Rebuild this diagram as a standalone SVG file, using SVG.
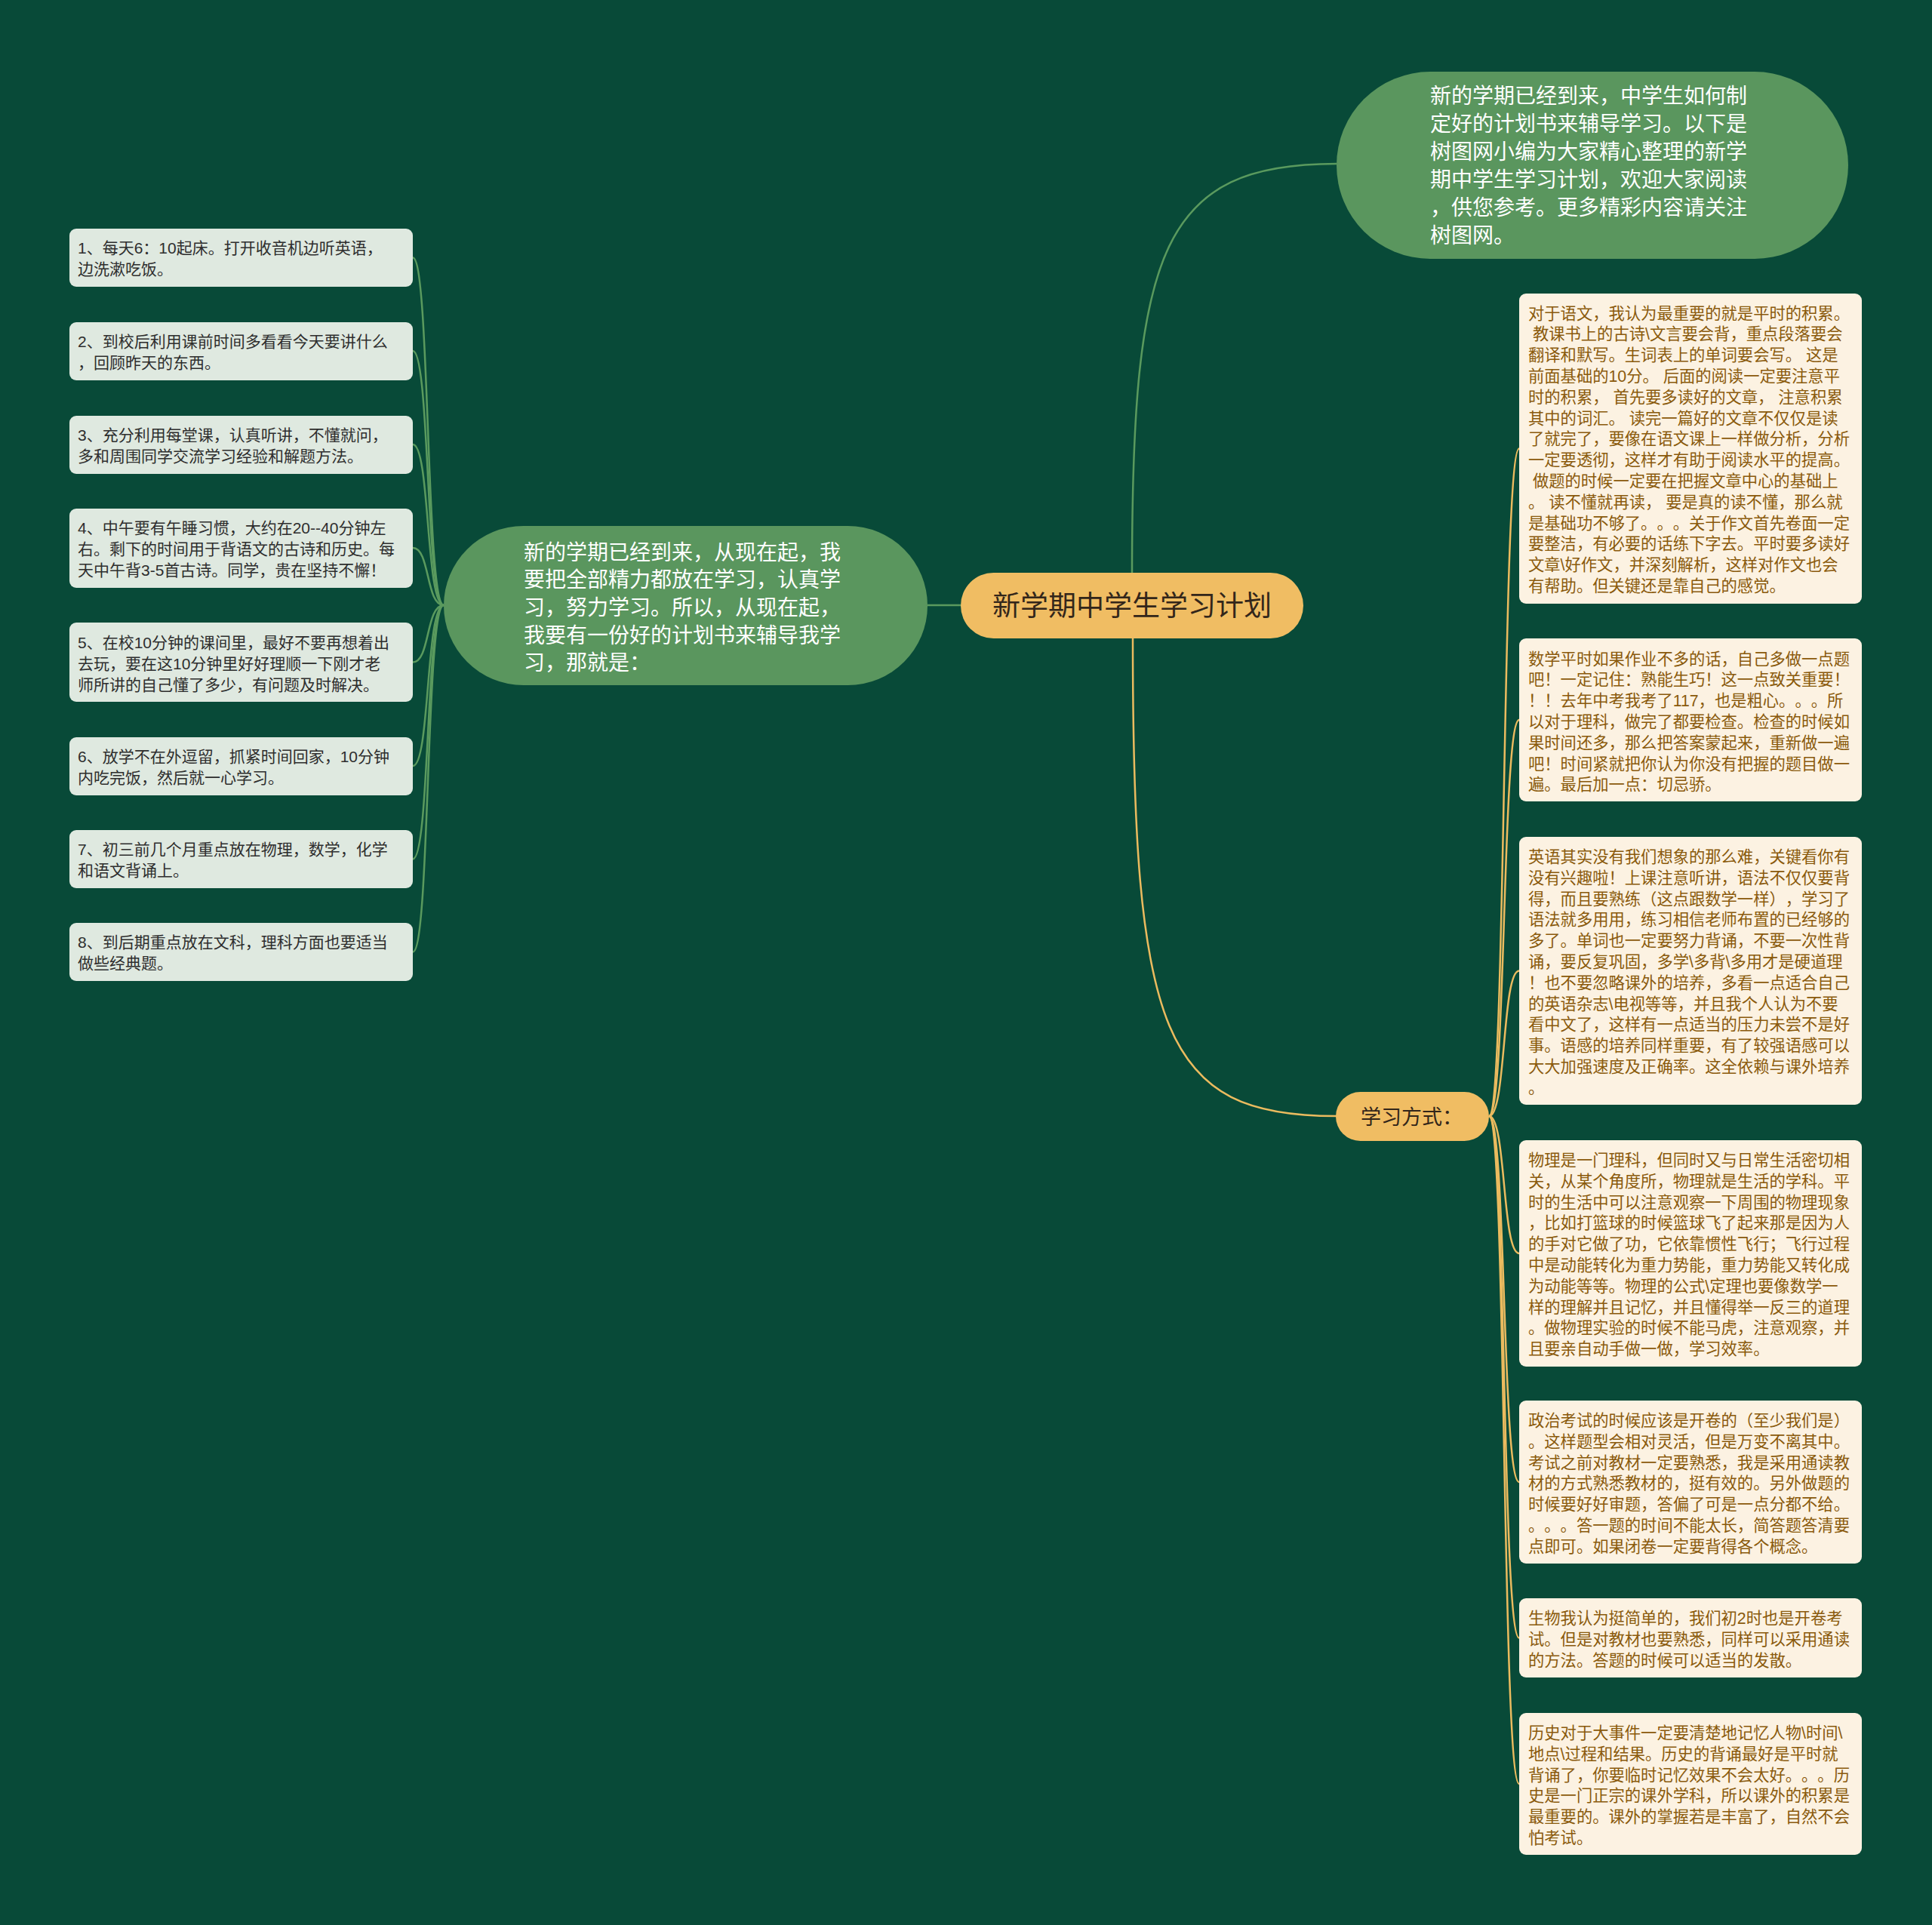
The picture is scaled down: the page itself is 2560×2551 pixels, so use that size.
<svg xmlns="http://www.w3.org/2000/svg" width="2560" height="2551" viewBox="0 0 2560 2551">
<style>
text{font-family:"Liberation Sans","Noto Sans CJK SC",sans-serif;text-spacing-trim:space-all;}
.gnode{fill:#5a965e;}
.wt{fill:#ffffff;font-size:28px;}
.lb{fill:#dfe9e0;}
.lt{fill:#2e2e2e;font-size:21px;}
.rb{fill:#fcf2e2;}
.rt{fill:#8a5a0c;font-size:21.3px;}
.gl{fill:none;stroke:#5a9a5e;stroke-width:2.5;}
.yl{fill:none;stroke:#ebbb5f;stroke-width:2.5;}
</style>
<rect x="0" y="0" width="2560" height="2551" fill="#084a38"/>
<g id="connectors">
<path class="gl" d="M1229 802 L1273 802"/>
<path class="gl" d="M1500 759 C1500 330 1540 217 1771 217"/>
<path class="yl" d="M1501 846 C1501 1370 1540 1479 1771 1479"/>
<path class="gl" d="M588 802 C564 802 570 341.5 547 341.5"/>
<path class="gl" d="M588 802 C564 802 570 465 547 465"/>
<path class="gl" d="M588 802 C564 802 570 589 547 589"/>
<path class="gl" d="M588 802 C564 802 570 726 547 726"/>
<path class="gl" d="M588 802 C564 802 570 877.5 547 877.5"/>
<path class="gl" d="M588 802 C564 802 570 1015 547 1015"/>
<path class="gl" d="M588 802 C564 802 570 1138.5 547 1138.5"/>
<path class="gl" d="M588 802 C564 802 570 1261.5 547 1261.5"/>
<path class="yl" d="M1973 1479 C1996 1479 1990 594.5 2013 594.5"/>
<path class="yl" d="M1973 1479 C1996 1479 1990 954 2013 954"/>
<path class="yl" d="M1973 1479 C1996 1479 1990 1286.5 2013 1286.5"/>
<path class="yl" d="M1973 1479 C1996 1479 1990 1661 2013 1661"/>
<path class="yl" d="M1973 1479 C1996 1479 1990 1964 2013 1964"/>
<path class="yl" d="M1973 1479 C1996 1479 1990 2170.5 2013 2170.5"/>
<path class="yl" d="M1973 1479 C1996 1479 1990 2364 2013 2364"/>
</g>
<g id="root">
<rect x="1273" y="759" width="454" height="87" rx="43.5" fill="#f0bd63"/>
<text x="1500" y="816" text-anchor="middle" font-size="37" fill="#33261a">新学期中学生学习计划</text>
</g>
<g id="intro">
<rect class="gnode" x="1771" y="95" width="678" height="248" rx="124"/>
<text class="wt" x="1895" y="136.5"><tspan x="1895" dy="0">新的学期已经到来，中学生如何制</tspan><tspan x="1895" dy="37">定好的计划书来辅导学习。以下是</tspan><tspan x="1895" dy="37">树图网小编为大家精心整理的新学</tspan><tspan x="1895" dy="37">期中学生学习计划，欢迎大家阅读</tspan><tspan x="1895" dy="37">，供您参考。更多精彩内容请关注</tspan><tspan x="1895" dy="37">树图网。</tspan></text>
</g>
<g id="plan">
<rect class="gnode" x="588" y="697" width="641" height="211" rx="105.5"/>
<text class="wt" x="694" y="741.5"><tspan x="694" dy="0">新的学期已经到来，从现在起，我</tspan><tspan x="694" dy="36.7">要把全部精力都放在学习，认真学</tspan><tspan x="694" dy="36.7">习，努力学习。所以，从现在起，</tspan><tspan x="694" dy="36.7">我要有一份好的计划书来辅导我学</tspan><tspan x="694" dy="36.7">习，那就是：</tspan></text>
</g>
<g id="plan-1">
<rect class="lb" x="92" y="303" width="455" height="77" rx="9"/>
<text class="lt" x="103" y="336"><tspan x="103" dy="0">1、每天6：10起床。打开收音机边听英语，</tspan><tspan x="103" dy="28">边洗漱吃饭。</tspan></text>
</g>
<g id="plan-2">
<rect class="lb" x="92" y="427" width="455" height="77" rx="9"/>
<text class="lt" x="103" y="460"><tspan x="103" dy="0">2、到校后利用课前时间多看看今天要讲什么</tspan><tspan x="103" dy="28">，回顾昨天的东西。</tspan></text>
</g>
<g id="plan-3">
<rect class="lb" x="92" y="551" width="455" height="77" rx="9"/>
<text class="lt" x="103" y="584"><tspan x="103" dy="0">3、充分利用每堂课，认真听讲，不懂就问，</tspan><tspan x="103" dy="28">多和周围同学交流学习经验和解题方法。</tspan></text>
</g>
<g id="plan-4">
<rect class="lb" x="92" y="674" width="455" height="105" rx="9"/>
<text class="lt" x="103" y="707"><tspan x="103" dy="0">4、中午要有午睡习惯，大约在20--40分钟左</tspan><tspan x="103" dy="28">右。剩下的时间用于背语文的古诗和历史。每</tspan><tspan x="103" dy="28">天中午背3-5首古诗。同学，贵在坚持不懈！</tspan></text>
</g>
<g id="plan-5">
<rect class="lb" x="92" y="825" width="455" height="105" rx="9"/>
<text class="lt" x="103" y="859"><tspan x="103" dy="0">5、在校10分钟的课间里，最好不要再想着出</tspan><tspan x="103" dy="28">去玩，要在这10分钟里好好理顺一下刚才老</tspan><tspan x="103" dy="28">师所讲的自己懂了多少，有问题及时解决。</tspan></text>
</g>
<g id="plan-6">
<rect class="lb" x="92" y="977" width="455" height="77" rx="9"/>
<text class="lt" x="103" y="1010"><tspan x="103" dy="0">6、放学不在外逗留，抓紧时间回家，10分钟</tspan><tspan x="103" dy="28">内吃完饭，然后就一心学习。</tspan></text>
</g>
<g id="plan-7">
<rect class="lb" x="92" y="1100" width="455" height="77" rx="9"/>
<text class="lt" x="103" y="1133"><tspan x="103" dy="0">7、初三前几个月重点放在物理，数学，化学</tspan><tspan x="103" dy="28">和语文背诵上。</tspan></text>
</g>
<g id="plan-8">
<rect class="lb" x="92" y="1223" width="455" height="77" rx="9"/>
<text class="lt" x="103" y="1256"><tspan x="103" dy="0">8、到后期重点放在文科，理科方面也要适当</tspan><tspan x="103" dy="28">做些经典题。</tspan></text>
</g>
<g id="method">
<rect x="1770" y="1447" width="203" height="65" rx="32.5" fill="#f0bd63"/>
<text x="1803" y="1490" font-size="27" fill="#33261a">学习方式：</text>
</g>
<g id="m-chinese">
<rect class="rb" x="2013" y="389" width="454" height="411" rx="9"/>
<text class="rt" x="2025" y="422.5" xml:space="preserve"><tspan x="2025" dy="0">对于语文，我认为最重要的就是平时的积累。</tspan><tspan x="2025" dy="27.8"> 教课书上的古诗\文言要会背，重点段落要会</tspan><tspan x="2025" dy="27.8">翻译和默写。生词表上的单词要会写。 这是</tspan><tspan x="2025" dy="27.8">前面基础的10分。 后面的阅读一定要注意平</tspan><tspan x="2025" dy="27.8">时的积累， 首先要多读好的文章， 注意积累</tspan><tspan x="2025" dy="27.8">其中的词汇。 读完一篇好的文章不仅仅是读</tspan><tspan x="2025" dy="27.8">了就完了，要像在语文课上一样做分析，分析</tspan><tspan x="2025" dy="27.8">一定要透彻，这样才有助于阅读水平的提高。</tspan><tspan x="2025" dy="27.8"> 做题的时候一定要在把握文章中心的基础上</tspan><tspan x="2025" dy="27.8">。 读不懂就再读， 要是真的读不懂，那么就</tspan><tspan x="2025" dy="27.8">是基础功不够了。。。关于作文首先卷面一定</tspan><tspan x="2025" dy="27.8">要整洁，有必要的话练下字去。平时要多读好</tspan><tspan x="2025" dy="27.8">文章\好作文，并深刻解析，这样对作文也会</tspan><tspan x="2025" dy="27.8">有帮助。但关键还是靠自己的感觉。</tspan></text>
</g>
<g id="m-math">
<rect class="rb" x="2013" y="846" width="454" height="216" rx="9"/>
<text class="rt" x="2025" y="880.5"><tspan x="2025" dy="0">数学平时如果作业不多的话，自己多做一点题</tspan><tspan x="2025" dy="27.8">吧！一定记住：熟能生巧！这一点致关重要！</tspan><tspan x="2025" dy="27.8">！！去年中考我考了117，也是粗心。。。所</tspan><tspan x="2025" dy="27.8">以对于理科，做完了都要检查。检查的时候如</tspan><tspan x="2025" dy="27.8">果时间还多，那么把答案蒙起来，重新做一遍</tspan><tspan x="2025" dy="27.8">吧！时间紧就把你认为你没有把握的题目做一</tspan><tspan x="2025" dy="27.8">遍。最后加一点：切忌骄。</tspan></text>
</g>
<g id="m-english">
<rect class="rb" x="2013" y="1109" width="454" height="355" rx="9"/>
<text class="rt" x="2025" y="1143"><tspan x="2025" dy="0">英语其实没有我们想象的那么难，关键看你有</tspan><tspan x="2025" dy="27.8">没有兴趣啦！上课注意听讲，语法不仅仅要背</tspan><tspan x="2025" dy="27.8">得，而且要熟练（这点跟数学一样），学习了</tspan><tspan x="2025" dy="27.8">语法就多用用，练习相信老师布置的已经够的</tspan><tspan x="2025" dy="27.8">多了。单词也一定要努力背诵，不要一次性背</tspan><tspan x="2025" dy="27.8">诵，要反复巩固，多学\多背\多用才是硬道理</tspan><tspan x="2025" dy="27.8">！也不要忽略课外的培养，多看一点适合自己</tspan><tspan x="2025" dy="27.8">的英语杂志\电视等等，并且我个人认为不要</tspan><tspan x="2025" dy="27.8">看中文了，这样有一点适当的压力未尝不是好</tspan><tspan x="2025" dy="27.8">事。语感的培养同样重要，有了较强语感可以</tspan><tspan x="2025" dy="27.8">大大加强速度及正确率。这全依赖与课外培养</tspan><tspan x="2025" dy="27.8">。</tspan></text>
</g>
<g id="m-physics">
<rect class="rb" x="2013" y="1511" width="454" height="300" rx="9"/>
<text class="rt" x="2025" y="1545"><tspan x="2025" dy="0">物理是一门理科，但同时又与日常生活密切相</tspan><tspan x="2025" dy="27.8">关，从某个角度所，物理就是生活的学科。平</tspan><tspan x="2025" dy="27.8">时的生活中可以注意观察一下周围的物理现象</tspan><tspan x="2025" dy="27.8">，比如打篮球的时候篮球飞了起来那是因为人</tspan><tspan x="2025" dy="27.8">的手对它做了功，它依靠惯性飞行；飞行过程</tspan><tspan x="2025" dy="27.8">中是动能转化为重力势能，重力势能又转化成</tspan><tspan x="2025" dy="27.8">为动能等等。物理的公式\定理也要像数学一</tspan><tspan x="2025" dy="27.8">样的理解并且记忆，并且懂得举一反三的道理</tspan><tspan x="2025" dy="27.8">。做物理实验的时候不能马虎，注意观察，并</tspan><tspan x="2025" dy="27.8">且要亲自动手做一做，学习效率。</tspan></text>
</g>
<g id="m-politics">
<rect class="rb" x="2013" y="1856" width="454" height="216" rx="9"/>
<text class="rt" x="2025" y="1890"><tspan x="2025" dy="0">政治考试的时候应该是开卷的（至少我们是）</tspan><tspan x="2025" dy="27.8">。这样题型会相对灵活，但是万变不离其中。</tspan><tspan x="2025" dy="27.8">考试之前对教材一定要熟悉，我是采用通读教</tspan><tspan x="2025" dy="27.8">材的方式熟悉教材的，挺有效的。另外做题的</tspan><tspan x="2025" dy="27.8">时候要好好审题，答偏了可是一点分都不给。</tspan><tspan x="2025" dy="27.8">。。。答一题的时间不能太长，简答题答清要</tspan><tspan x="2025" dy="27.8">点即可。如果闭卷一定要背得各个概念。</tspan></text>
</g>
<g id="m-biology">
<rect class="rb" x="2013" y="2118" width="454" height="105" rx="9"/>
<text class="rt" x="2025" y="2152"><tspan x="2025" dy="0">生物我认为挺简单的，我们初2时也是开卷考</tspan><tspan x="2025" dy="27.8">试。但是对教材也要熟悉，同样可以采用通读</tspan><tspan x="2025" dy="27.8">的方法。答题的时候可以适当的发散。</tspan></text>
</g>
<g id="m-history">
<rect class="rb" x="2013" y="2270" width="454" height="188" rx="9"/>
<text class="rt" x="2025" y="2304"><tspan x="2025" dy="0">历史对于大事件一定要清楚地记忆人物\时间\</tspan><tspan x="2025" dy="27.8">地点\过程和结果。历史的背诵最好是平时就</tspan><tspan x="2025" dy="27.8">背诵了，你要临时记忆效果不会太好。。。历</tspan><tspan x="2025" dy="27.8">史是一门正宗的课外学科，所以课外的积累是</tspan><tspan x="2025" dy="27.8">最重要的。课外的掌握若是丰富了，自然不会</tspan><tspan x="2025" dy="27.8">怕考试。</tspan></text>
</g>
</svg>
